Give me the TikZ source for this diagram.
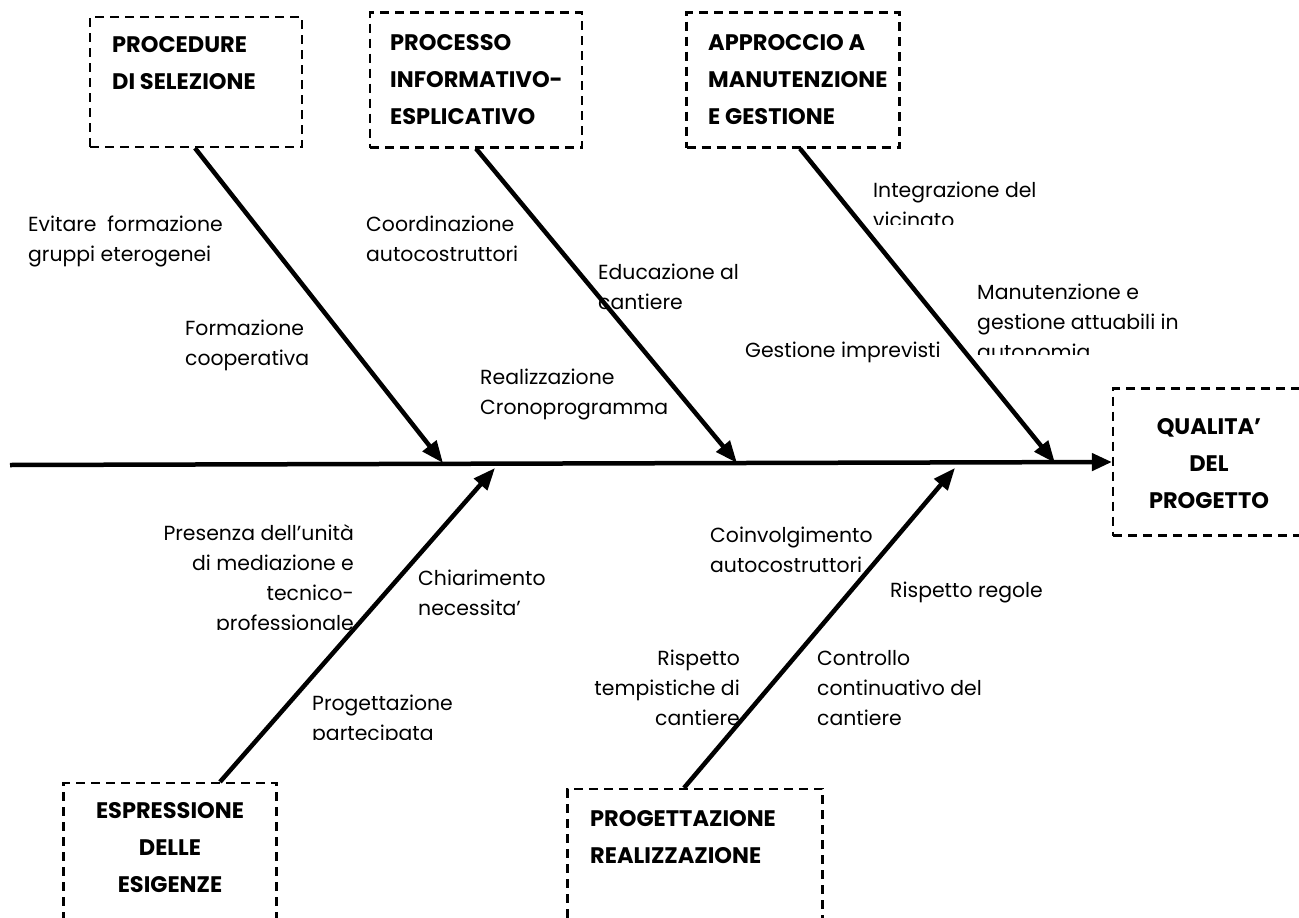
\documentclass[tikz,border=0pt]{standalone}
\usepackage{fontspec}
\setmainfont{Poppins}
\usetikzlibrary{arrows.meta}
\begin{document}
\begin{tikzpicture}[x=1pt,y=-1pt,
  catbox/.style={draw, dash pattern=on 9pt off 6pt, line width=2.2pt, inner sep=0pt},
  cattext/.style={inner sep=0pt, font=\bfseries\fontsize{22.5}{37}\selectfont},
  cause/.style={inner sep=0pt, align=left, font=\fontsize{20.4}{30}\selectfont},
  bone/.style={line width=4.5pt, -{Triangle[length=22pt,width=17pt]}},
  spine/.style={line width=4.5pt, -{Triangle[length=20pt,width=17pt]}}]
\clip (0,0) rectangle (1299,918);
\fill[white] (0,0) rectangle (1299,918);

% category boxes
\node[catbox, minimum width=212pt, minimum height=130pt] (bsel) at (196,82) {};
\node[catbox, minimum width=212pt, minimum height=135pt] (binf) at (476,80) {};
\node[catbox, minimum width=213pt, minimum height=135pt] (bman) at (793,80) {};
\node[catbox, minimum width=200pt, minimum height=147pt] (bqual) at (1213,462) {};
\node[catbox, minimum width=213pt, minimum height=150pt] (besi) at (170,858) {};
\node[catbox, minimum width=255pt, minimum height=150pt] (bpro) at (695,864) {};

% box titles
\node[cattext, anchor=north west, align=left] (tsel) at (112,36) {PROCEDURE\\DI SELEZIONE};
\node[cattext, anchor=north west, align=left] (tinf) at (390,34) {PROCESSO\\INFORMATIVO-\\ESPLICATIVO};
\node[cattext, anchor=north west, align=left] (tman) at (708,34) {APPROCCIO A\\MANUTENZIONE\\E GESTIONE};
\node[cattext, anchor=north, align=center] (tqual) at (1209,418) {QUALITA'\\DEL\\PROGETTO};
\node[cattext, anchor=north, align=center] (tesi) at (170,802) {ESPRESSIONE\\DELLE\\ESIGENZE};
\node[cattext, anchor=north west, align=left] (tpro) at (590,810) {PROGETTAZIONE\\REALIZZAZIONE};

% spine and bones
\coordinate (sstart) at (10,465);
\coordinate (h1) at (443,463);
\coordinate (h2) at (737,463);
\coordinate (h3) at (1055,463);
\coordinate (l1) at (495,468);
\coordinate (l2) at (955,468);
\draw[spine] (sstart) -- (bqual.west);
\draw[bone] ([xshift=-1pt]bsel.south) -- (h1);
\draw[bone] (binf.south) -- (h2);
\draw[bone] ([xshift=7pt]bman.south) -- (h3);
\draw[bone] ([xshift=50pt]besi.north) -- (l1);
\draw[bone] ([xshift=-11pt]bpro.north) -- (l2);

% causes
\node[cause, anchor=north west] (c1) at (28,216) {Evitare\ \ formazione\\gruppi eterogenei};
\node[cause, anchor=north west] (c2) at (185,320) {Formazione\\cooperativa};
\node[cause, anchor=north west] (c3) at (366,216) {Coordinazione\\autocostruttori};
\node[cause, anchor=north west] (c4) at (598,264) {Educazione al\\cantiere};
\node[cause, anchor=north west] (c5) at (480,369) {Realizzazione\\Cronoprogramma};
\node[cause, anchor=north west] (c6) at (745,342) {Gestione imprevisti};
\begin{scope}
\clip (860,160) rectangle (1100,224);
\node[cause, anchor=north west] (c7) at (873,182) {Integrazione del\\vicinato};
\end{scope}
\begin{scope}
\clip (960,270) rectangle (1299,354);
\node[cause, anchor=north west] (c8) at (977,284) {Manutenzione e\\gestione attuabili in\\autonomia};
\end{scope}
\begin{scope}
\clip (100,500) rectangle (360,629);
\node[cause, anchor=north east, align=right] (c9) at (354,524) {Presenza dell’unità\\di mediazione e\\tecnico-\\professionale};
\end{scope}
\node[cause, anchor=north west] (c10) at (418,570) {Chiarimento\\necessita'};
\begin{scope}
\clip (300,680) rectangle (520,739);
\node[cause, anchor=north west] (c11) at (312,695) {Progettazione\\partecipata};
\end{scope}
\node[cause, anchor=north west] (c12) at (710,527) {Coinvolgimento\\autocostruttori};
\node[cause, anchor=north west] (c13) at (890,582) {Rispetto regole};
\node[cause, anchor=north east, align=right] (c14) at (740,650) {Rispetto\\tempistiche di\\cantiere};
\node[cause, anchor=north west] (c15) at (817,650) {Controllo\\continuativo del\\cantiere};
\end{tikzpicture}
\end{document}
